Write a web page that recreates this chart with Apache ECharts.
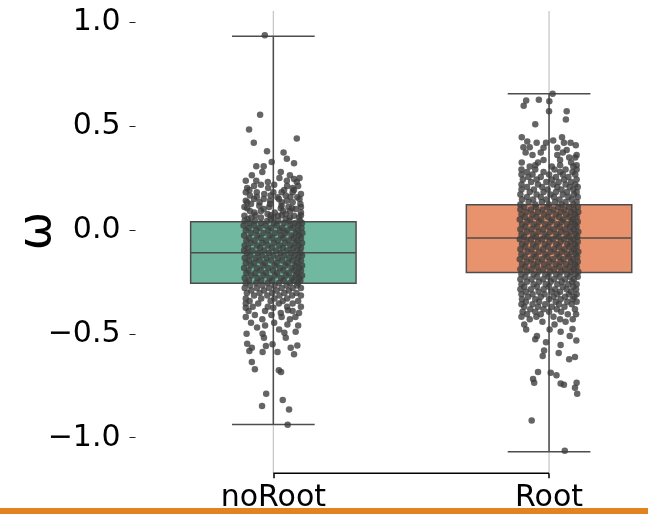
<!DOCTYPE html>
<html>
<head>
<meta charset="utf-8">
<script src="https://cdn.jsdelivr.net/npm/echarts@6/dist/echarts.min.js"></script>
<style>
  html, body { margin: 0; padding: 0; background: #fff; }
  #chart { width: 648px; height: 514px; }
</style>
</head>
<body>
<div id="chart"></div>
<script>
const categories = ['noRoot', 'Root'];
// [low whisker, Q1, median, Q3, high whisker]
const noRootBox = [-0.936, -0.257, -0.111, 0.039, 0.93];
const rootBox = [-1.067, -0.205, -0.04, 0.12, 0.654];
const boxColors = ['#70b8a0', '#e8936d'];
const yTicks = [-1.0, -0.5, 0.0, 0.5, 1.0];
const yMin = -1.171;
const yMax = 1.052;

// strip points, one row = [omega, jitter offsets (in category widths)...]
const noRootStrip = [
  [0.935, -0.031], [0.553, -0.048], [0.482, -0.088], [0.439, 0.085], [0.419, -0.071],
  [0.377, -0.023], [0.371, 0.037], [0.342, 0.049], [0.326, -0.006], [0.320, 0.075],
  [0.306, -0.035, -0.062], [0.278, -0.04, 0.027], [0.262, -0.078, 0.06],
  [0.249, 0.022, 0.095], [0.244, 0.075], [0.236, -0.062, 0.049, -0.1], [0.230, -0.02, 0.085],
  [0.217, -0.045, 0.003], [0.210, -0.07, 0.05, 0.09], [0.201, -0.019, -0.095, 0.07],
  [0.191, -0.087, 0.039, 0.075], [0.180, -0.1, -0.06, 0.0, 0.03, 0.07],
  [0.172, -0.033, 0.1], [0.165, -0.085, -0.01, 0.045], [0.159, -0.06, 0.062], [0.156, 0.015, 0.087],
  [0.148, -0.07, -0.035, 0.02, 0.095], [0.140, 0.049, -0.1, -0.012],
  [0.132, -0.095, -0.05, 0.03, 0.07], [0.124, -0.081, -0.012, 0.098], [0.116, -0.051, 0.03],
  [0.110, -0.105, -0.015, 0.055, 0.1], [0.104, 0.027, 0.068, -0.095], [0.100, 0.081, -0.035],
  [0.090, -0.085, -0.045, 0.035, 0.06], [0.083, -0.069, 0.005, 0.1],
  [0.076, -0.021, 0.045], [0.070, -0.065, -0.01, 0.03, 0.1], [0.067, 0.017, -0.105, 0.075],
  [0.060, 0.0, 0.06], [0.059, -0.045, 0.093, -0.08], [0.052, -0.093, 0.045, -0.01],
  [0.044, -0.104, -0.066, -0.022, 0.018, 0.058, 0.097],
  [0.032, -0.086, -0.044, 0.002, 0.04, 0.079, 0.104],
  [0.020, -0.108, -0.07, -0.028, 0.012, 0.062, 0.09],
  [0.008, -0.09, -0.05, -0.008, 0.032, 0.07, 0.102],
  [-0.004, -0.1, -0.062, -0.018, 0.024, 0.05, 0.088],
  [-0.016, -0.08, -0.036, 0.006, 0.044, 0.082, 0.105],
  [-0.028, -0.106, -0.058, -0.014, 0.028, 0.066, 0.094],
  [-0.040, -0.088, -0.046, -0.004, 0.036, 0.074, 0.1],
  [-0.052, -0.098, -0.068, -0.026, 0.016, 0.056, 0.086],
  [-0.064, -0.082, -0.04, 0.002, 0.042, 0.08, 0.104],
  [-0.076, -0.104, -0.06, -0.02, 0.022, 0.062, 0.092],
  [-0.088, -0.092, -0.048, -0.006, 0.034, 0.072, 0.1],
  [-0.100, -0.076, -0.034, 0.01, 0.05, 0.086, -0.106],
  [-0.112, -0.096, -0.056, -0.016, 0.026, 0.064, 0.098],
  [-0.124, -0.084, -0.042, 0.0, 0.04, 0.078, 0.104],
  [-0.136, -0.104, -0.064, -0.024, 0.018, 0.058, 0.09],
  [-0.148, -0.088, -0.05, -0.008, 0.032, 0.07, 0.1],
  [-0.160, -0.1, -0.07, -0.03, 0.012, 0.052, 0.086],
  [-0.172, -0.082, -0.038, 0.004, 0.044, 0.08, 0.104],
  [-0.184, -0.106, -0.06, -0.018, 0.024, 0.066, 0.094],
  [-0.196, -0.09, -0.046, -0.002, 0.036, 0.076, 0.1],
  [-0.208, -0.098, -0.066, -0.026, 0.014, 0.056, 0.088],
  [-0.220, -0.08, -0.036, 0.006, 0.046, 0.082, 0.104],
  [-0.232, -0.104, -0.058, -0.014, 0.028, 0.068, 0.094],
  [-0.244, -0.088, -0.044, -0.004, 0.038, 0.074, 0.098],
  [-0.256, -0.1, -0.062, -0.02, 0.02, 0.06, 0.09],
  [-0.268, -0.084, -0.04, 0.004, 0.048, 0.086],
  [-0.280, -0.104, -0.06, -0.016, 0.03, 0.07, 0.1],
  [-0.292, -0.08, -0.034, 0.012, 0.056],
  [-0.304, -0.096, -0.05, -0.004, 0.04, 0.084],
  [-0.316, -0.07, -0.022, 0.022, 0.068, 0.1],
  [-0.330, -0.1, -0.044, 0.004, 0.05],
  [-0.342, -0.086, -0.01, 0.034, 0.09],
  [-0.355, -0.1, -0.055, 0.02, 0.07],
  [-0.370, -0.075, -0.02, 0.05, 0.1], [-0.375, -0.1, 0.0],
  [-0.387, 0.053], [-0.390, -0.09, -0.03, 0.07], [-0.400, 0.093, 0.027], [-0.410, -0.067, -0.007],
  [-0.420, -0.1, 0.03, 0.08], [-0.430, -0.04, 0.06],
  [-0.447, -0.081, 0.003], [-0.455, 0.051], [-0.460, -0.03, 0.09], [-0.470, -0.059], [-0.479, 0.021],
  [-0.490, 0.081], [-0.495, 0.04], [-0.500, -0.097, -0.039], [-0.519, -0.034, 0.045],
  [-0.548, -0.095], [-0.551, -0.003], [-0.556, 0.087], [-0.559, -0.027],
  [-0.567, -0.078, 0.063], [-0.583, -0.087], [-0.588, -0.039, 0.015], [-0.599, 0.075],
  [-0.636, -0.078], [-0.671, -0.067], [-0.676, 0.02], [-0.684, 0.028],
  [-0.789, -0.026], [-0.818, 0.034], [-0.847, -0.041], [-0.864, 0.057], [-0.938, 0.052]
];

const rootStrip = [
  [0.654, 0.013], [0.625, -0.037], [0.622, -0.083], [0.618, 0.001], [0.596, -0.092],
  [0.570, 0.0, 0.064], [0.530, 0.061], [0.507, -0.05], [0.445, -0.099, 0.047],
  [0.429, 0.015], [0.424, -0.079], [0.419, -0.045, -0.011, 0.054, 0.078], [0.406, 0.097],
  [0.397, -0.093, -0.07], [0.395, -0.02, 0.03], [0.384, 0.064], [0.372, -0.085, -0.03, 0.05],
  [0.360, -0.06, 0.03, 0.1], [0.348, 0.095, 0.073],
  [0.335, -0.02, 0.04], [0.324, -0.099, -0.04, 0.08], [0.310, -0.05, 0.04, 0.1],
  [0.304, 0.088, -0.07, 0.01],
  [0.290, -0.1, -0.05, 0.02, 0.06, 0.1],
  [0.278, -0.08, -0.02, 0.04, 0.085],
  [0.266, -0.1, -0.06, 0.0, 0.05, 0.095],
  [0.254, -0.075, -0.03, 0.025, 0.07],
  [0.242, -0.095, -0.045, 0.01, 0.055, 0.1],
  [0.230, -0.065, -0.01, 0.035, 0.08],
  [0.218, -0.1, -0.04, 0.015, 0.06, 0.095],
  [0.206, -0.08, -0.025, 0.03, 0.075, 0.104],
  [0.194, -0.1, -0.055, -0.005, 0.045, 0.088],
  [0.182, -0.07, -0.02, 0.025, 0.065, 0.1],
  [0.170, -0.104, -0.045, 0.005, 0.05, 0.09],
  [0.158, -0.08, -0.03, 0.018, 0.07, 0.104],
  [0.146, -0.098, -0.058, -0.01, 0.038, 0.082],
  [0.134, -0.074, -0.026, 0.022, 0.06, 0.1],
  [0.122, -0.104, -0.05, 0.0, 0.046, 0.088],
  [0.110, -0.09, -0.048, -0.006, 0.034, 0.072, 0.104],
  [0.098, -0.104, -0.066, -0.024, 0.016, 0.056, 0.09],
  [0.086, -0.082, -0.04, 0.002, 0.042, 0.08, 0.106],
  [0.074, -0.1, -0.06, -0.018, 0.024, 0.062, 0.094],
  [0.062, -0.088, -0.046, -0.004, 0.036, 0.074, 0.1],
  [0.050, -0.106, -0.068, -0.028, 0.012, 0.052, 0.086],
  [0.038, -0.078, -0.036, 0.006, 0.046, 0.082, 0.104],
  [0.026, -0.098, -0.056, -0.014, 0.028, 0.066, 0.094],
  [0.014, -0.086, -0.044, -0.002, 0.038, 0.076, 0.1],
  [0.002, -0.104, -0.064, -0.022, 0.018, 0.058, 0.09],
  [-0.010, -0.08, -0.038, 0.004, 0.044, 0.08, 0.106],
  [-0.022, -0.1, -0.058, -0.016, 0.026, 0.064, 0.096],
  [-0.034, -0.09, -0.048, -0.006, 0.034, 0.072, 0.102],
  [-0.046, -0.106, -0.066, -0.026, 0.014, 0.054, 0.088],
  [-0.058, -0.082, -0.04, 0.002, 0.042, 0.078, 0.104],
  [-0.070, -0.098, -0.058, -0.016, 0.026, 0.066, 0.094],
  [-0.082, -0.086, -0.046, -0.004, 0.036, 0.074, 0.1],
  [-0.094, -0.104, -0.064, -0.022, 0.018, 0.056, 0.09],
  [-0.106, -0.078, -0.036, 0.006, 0.046, 0.082, 0.106],
  [-0.118, -0.1, -0.056, -0.014, 0.028, 0.066, 0.096],
  [-0.130, -0.088, -0.048, -0.006, 0.036, 0.072, 0.102],
  [-0.142, -0.106, -0.066, -0.026, 0.014, 0.052, 0.086],
  [-0.154, -0.08, -0.04, 0.002, 0.042, 0.08, 0.104],
  [-0.166, -0.098, -0.058, -0.018, 0.024, 0.062, 0.094],
  [-0.178, -0.086, -0.044, -0.002, 0.038, 0.076, 0.1],
  [-0.190, -0.104, -0.064, -0.022, 0.018, 0.058, 0.09],
  [-0.202, -0.08, -0.038, 0.004, 0.044, 0.08, 0.106],
  [-0.214, -0.1, -0.056, -0.014, 0.026, 0.066, 0.096],
  [-0.226, -0.086, -0.044, -0.002, 0.038, 0.076, 0.104],
  [-0.238, -0.104, -0.064, -0.022, 0.018, 0.058, 0.09],
  [-0.250, -0.08, -0.036, 0.006, 0.046, 0.084],
  [-0.262, -0.1, -0.056, -0.012, 0.03, 0.07, 0.1],
  [-0.274, -0.09, -0.044, 0.0, 0.05, 0.088],
  [-0.286, -0.104, -0.066, -0.02, 0.022, 0.064, 0.098],
  [-0.298, -0.084, -0.038, 0.01, 0.04, 0.08],
  [-0.310, -0.1, -0.06, -0.016, 0.03, 0.072, 0.1],
  [-0.322, -0.076, -0.03, 0.016, 0.058, 0.092],
  [-0.334, -0.098, -0.05, 0.0, 0.042, 0.086],
  [-0.346, -0.084, -0.036, 0.024, 0.066, 0.1],
  [-0.358, -0.1, -0.06, -0.014, 0.036, 0.082],
  [-0.370, -0.09, -0.04, 0.01, 0.056],
  [-0.382, -0.068, -0.02, 0.028, 0.094],
  [-0.394, -0.096, -0.05, 0.0, 0.044],
  [-0.406, -0.08, -0.03, 0.068, 0.098],
  [-0.418, -0.1, -0.046, 0.016],
  [-0.430, -0.07, 0.04, 0.086],
  [-0.442, -0.024, 0.06],
  [-0.455, -0.09, 0.02],
  [-0.477, 0.085], [-0.480, -0.083, 0.002], [-0.490, 0.042], [-0.511, -0.044, 0.075],
  [-0.527, -0.05], [-0.532, 0.099], [-0.541, -0.011], [-0.554, 0.042], [-0.580, -0.018],
  [-0.593, 0.035], [-0.607, -0.023], [-0.612, 0.094], [-0.623, 0.073], [-0.684, -0.04],
  [-0.688, 0.006], [-0.699, 0.027], [-0.717, -0.058], [-0.736, -0.054, 0.1],
  [-0.739, 0.042], [-0.745, 0.054], [-0.760, 0.094], [-0.789, 0.102], [-0.917, -0.063],
  [-1.062, 0.057]
];

function stripPoints(rows, idx) {
  const pts = [];
  rows.forEach(row => {
    for (let i = 1; i < row.length; i++) pts.push([idx + row[i], row[0]]);
  });
  return pts;
}

const edgeColor = '#4d4d4d';
const font = 'DejaVu Sans';

function renderBox(params, api) {
  const c = api.value(0);
  const pLo = api.coord([c, api.value(1)]);
  const pQ1 = api.coord([c, api.value(2)]);
  const pMed = api.coord([c, api.value(3)]);
  const pQ3 = api.coord([c, api.value(4)]);
  const pHi = api.coord([c, api.value(5)]);
  const pTop = api.coord([c, yMax]);
  const pBot = api.coord([c, yMin]);
  const bw = api.size([0.6, 0])[0];
  const cw = api.size([0.3, 0])[0];
  const x = pMed[0];
  const ls = { stroke: edgeColor, lineWidth: 1.5 };
  return {
    type: 'group',
    children: [
      { type: 'line', shape: { x1: x, y1: pTop[1], x2: x, y2: pBot[1] }, style: { stroke: '#c4c4c4', lineWidth: 1.2 } },
      { type: 'line', shape: { x1: x, y1: pHi[1], x2: x, y2: pQ3[1] }, style: ls },
      { type: 'line', shape: { x1: x, y1: pQ1[1], x2: x, y2: pLo[1] }, style: ls },
      { type: 'line', shape: { x1: x - cw / 2, y1: pHi[1], x2: x + cw / 2, y2: pHi[1] }, style: ls },
      { type: 'line', shape: { x1: x - cw / 2, y1: pLo[1], x2: x + cw / 2, y2: pLo[1] }, style: ls },
      { type: 'rect', shape: { x: x - bw / 2, y: pQ3[1], width: bw, height: pQ1[1] - pQ3[1] },
        style: { fill: boxColors[params.dataIndex], stroke: edgeColor, lineWidth: 1.5 } },
      { type: 'line', shape: { x1: x - bw / 2, y1: pMed[1], x2: x + bw / 2, y2: pMed[1] }, style: ls }
    ]
  };
}

const chart = echarts.init(document.getElementById('chart'));
chart.setOption({
  animation: false,
  grid: { left: 135.5, right: -38.9, top: 11, bottom: 40.7, outerBoundsMode: 'none' },
  xAxis: [
    {
      type: 'category',
      data: categories,
      axisLine: { show: false, onZero: false },
      axisTick: { show: true, alignWithLabel: true, length: 5, lineStyle: { color: '#000', width: 1.5 } },
      axisLabel: { fontSize: 30, fontFamily: font, color: '#000', margin: 10 },
      splitLine: { show: false }
    },
    { type: 'value', min: -0.5, max: 1.5, show: false, axisLine: { onZero: false } }
  ],
  yAxis: {
    type: 'value',
    min: yMin,
    max: yMax,
    axisLine: { show: false, onZero: false },
    axisTick: { show: true, length: 6, customValues: yTicks, lineStyle: { color: '#222', width: 1 } },
    axisLabel: {
      fontSize: 30, fontFamily: font, color: '#000', margin: 15,
      customValues: yTicks,
      formatter: v => (v < 0 ? '\u2212' : '') + Math.abs(v).toFixed(1)
    },
    splitLine: { show: false }
  },
  series: [
    {
      type: 'custom',
      xAxisIndex: 1,
      renderItem: renderBox,
      data: [[0].concat(noRootBox), [1].concat(rootBox)],
      z: 1
    },
    {
      type: 'line',
      xAxisIndex: 1,
      data: [[0, yMin], [1, yMin]],
      symbol: 'none',
      clip: false,
      lineStyle: { color: '#000', width: 1.5 },
      z: 2
    },
    {
      type: 'scatter',
      xAxisIndex: 1,
      data: stripPoints(noRootStrip, 0).concat(stripPoints(rootStrip, 1)),
      symbolSize: 6.5,
      itemStyle: { color: '#3f3f3f' },
      z: 3
    }
  ],
  graphic: [
    { type: 'text', x: 38, y: 231, rotation: Math.PI / 2, z: 50,
      style: { text: 'ω', fontSize: 46, fontFamily: font, fill: '#000', align: 'center', verticalAlign: 'middle' } },
    { type: 'rect', left: 0, top: 508, z: 100, shape: { width: 648, height: 6 }, style: { fill: '#e2831f' } }
  ]
});
</script>
</body>
</html>
